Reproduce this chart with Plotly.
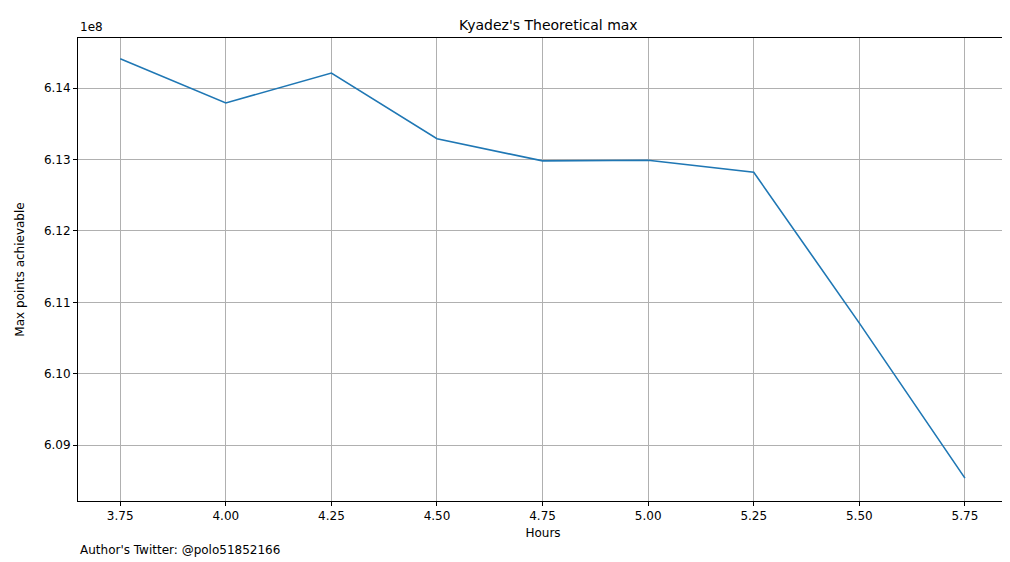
import plotly.graph_objects as go

hours = [3.75, 4.00, 4.25, 4.50, 4.75, 5.00, 5.25, 5.50, 5.75]
max_points = [6.1441e8, 6.1379e8, 6.1421e8, 6.1329e8, 6.1298e8, 6.1299e8, 6.1282e8, 6.1071e8, 6.0854e8]
scale = 1e8
y_scaled = [v / scale for v in max_points]
x_ticks = [3.75, 4.00, 4.25, 4.50, 4.75, 5.00, 5.25, 5.50, 5.75]
y_ticks = [6.09, 6.10, 6.11, 6.12, 6.13, 6.14]

fig = go.Figure(go.Scatter(x=hours, y=y_scaled, mode="lines",
                           line=dict(color="#1f77b4", width=1.6)))
axis_common = dict(showline=True, mirror=True, linecolor="black", linewidth=1,
                   gridcolor="#b0b0b0", gridwidth=1, ticks="outside", ticklen=4,
                   tickcolor="black", zeroline=False, automargin=False,
                   tickfont=dict(size=12, color="black"))
fig.update_xaxes(range=[3.65, 5.852], tickvals=x_ticks,
                 ticktext=[f"{v:.2f}" for v in x_ticks],
                 title=dict(text="Hours", font=dict(size=12, color="black"), standoff=6), **axis_common)
fig.update_yaxes(range=[6.0822, 6.1470], tickvals=y_ticks,
                 ticktext=[f"{v:.2f}" for v in y_ticks],
                 title=dict(text="Max points achievable", font=dict(size=12, color="black"), standoff=16), **axis_common)
fig.update_layout(
    width=1010, height=562, plot_bgcolor="white", paper_bgcolor="white",
    font=dict(family="DejaVu Sans", size=12, color="black"),
    margin=dict(l=70, r=10, t=30, b=69, autoexpand=False),
    title=dict(text="Kyadez's Theoretical max", x=0.535, xanchor="center", y=0.97, yanchor="middle",
               font=dict(size=14, color="black"), automargin=False),
    showlegend=False,
    annotations=[
        dict(text="1e8", xref="paper", yref="paper", x=0, y=1, xanchor="left", yanchor="bottom",
             showarrow=False, font=dict(size=12), yshift=2),
        dict(text="Author's Twitter: @polo51852166", xref="paper", yref="paper", x=0, y=0,
             xanchor="left", yanchor="top", showarrow=False, font=dict(size=12), yshift=-40),
    ],
)
fig.write_html("out.html")
